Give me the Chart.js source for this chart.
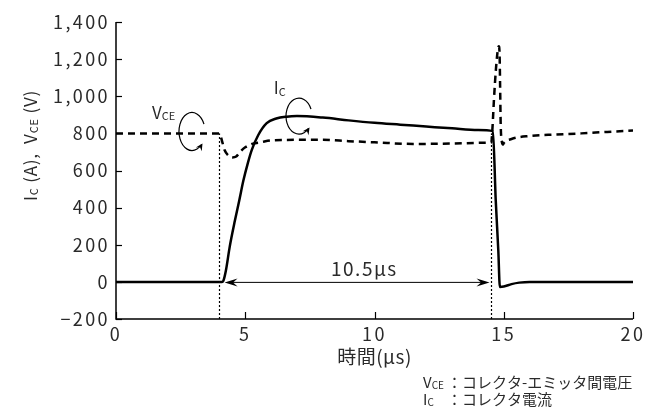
<!DOCTYPE html>
<html lang="ja">
<head>
<meta charset="utf-8">
<title>ターンオン・ターンオフ波形</title>
<script src="https://cdn.jsdelivr.net/npm/chart.js@4.4.1/dist/chart.umd.min.js"></script>
<style>
  html, body { margin: 0; padding: 0; background: #fff; }
  #wrap { width: 659px; height: 410px; position: relative; }
</style>
</head>
<body>
<div id="wrap"><canvas id="chart"></canvas></div>
<script>
"use strict";

// axis ranges / ticks
var xRange = [0, 20];
var yRange = [-200, 1400];
var xStep = 5;
var yStep = 200;

// V_CE waveform (dashed), time in us
var vceTime  = [0, 4.0, 4.1, 4.2, 4.35, 4.5, 4.65, 4.8, 5.0, 5.3, 5.6, 6.0, 7.0, 8.0, 9.0, 10.0, 11.5, 13.0, 14.4, 14.52,
                14.56, 14.62, 14.7, 14.77, 14.81, 14.84, 14.86, 14.88, 14.92, 14.97, 15.0, 15.3, 16.0, 17.0, 18.0, 19.0, 20.0];
var vceValue = [800, 800, 760, 710, 680, 670, 675, 700, 725, 745, 752, 762, 765, 765, 758, 752, 743, 745, 750, 752,
                820, 980, 1150, 1250, 1270, 1220, 1050, 860, 760, 740, 748, 770, 786, 794, 800, 808, 815];

// I_C waveform (solid)
var icTime  = [0, 4.1, 4.15, 4.25, 4.4, 4.6, 4.77, 4.93, 5.1, 5.25, 5.5, 5.83, 6.2, 6.6, 7.0, 8.0, 9.0, 10.0, 11.0, 12.0, 13.0, 14.0, 14.58,
               14.69, 14.79, 14.85, 15.0, 15.3, 15.6, 16.0, 20.0];
var icValue = [0, 0, 5, 60, 190, 330, 440, 547, 640, 710, 790, 855, 880, 890, 893, 885, 870, 857, 847, 837, 827, 818, 812,
               439, 168, -27, -25, -12, -4, 0, 0];

// turn-on / turn-off markers and pulse width
var markTimes  = [4.0, 14.5];
var markTop    = 800;
var arrowSpan  = [4.2, 14.45];
var widthLabel = "10.5μs";

var FONT = '"Noto Sans CJK JP", "Noto Sans", sans-serif';
var INK = "#2a2a2a";

function pts(t, v) {
  return t.map(function(x, i) { return { x: x, y: v[i] }; });
}

// text with subscripts: parts = [[text, isSub], ...]
function richWidth(ctx, parts, size) {
  var w = 0;
  parts.forEach(function(p) {
    ctx.font = (p[1] ? Math.round(size * 0.66) : size) + "px " + FONT;
    w += ctx.measureText(p[0]).width;
  });
  return w;
}
function drawRich(ctx, parts, x, y, size) {
  parts.forEach(function(p) {
    var s = p[1] ? Math.round(size * 0.66) : size;
    ctx.font = s + "px " + FONT;
    ctx.fillText(p[0], x, p[1] ? y + size * 0.08 : y);
    x += ctx.measureText(p[0]).width;
  });
  return x;
}

function arrowHead(ctx, x, y, dx, dy, len, half) {
  var n = Math.sqrt(dx * dx + dy * dy); dx /= n; dy /= n;
  var px = -dy, py = dx;
  ctx.beginPath();
  ctx.moveTo(x, y);
  ctx.lineTo(x - dx * len + px * half, y - dy * len + py * half);
  ctx.lineTo(x - dx * len * 0.65, y - dy * len * 0.65);
  ctx.lineTo(x - dx * len - px * half, y - dy * len - py * half);
  ctx.closePath();
  ctx.fill();
}

function curl(ctx, cx, cy, rx, ry) {
  var a0 = -0.4, a1 = 0.75;
  ctx.beginPath();
  ctx.ellipse(cx, cy, rx, ry, 0, a0, a1, true);
  ctx.stroke();
  var ex = cx + rx * Math.cos(a1), ey = cy + ry * Math.sin(a1);
  arrowHead(ctx, ex + 1, ey - 1, rx * Math.sin(a1), -ry * Math.cos(a1), 7, 3.5);
}

var decor = {
  id: "decor",
  beforeDraw: function(chart) {
    // wide, airy digits like the original typeface
    chart.ctx.letterSpacing = "2.4px";
  },
  beforeDatasetsDraw: function(chart) {
    var ctx = chart.ctx, xs = chart.scales.x, ys = chart.scales.y;
    ctx.save();
    ctx.letterSpacing = "0px";
    // dotted marker lines
    ctx.strokeStyle = "#000";
    ctx.lineWidth = 1.2;
    ctx.setLineDash([2, 2]);
    markTimes.forEach(function(t) {
      var px = Math.round(xs.getPixelForValue(t)) + 0.5;
      ctx.beginPath();
      ctx.moveTo(px, ys.getPixelForValue(yRange[0]));
      ctx.lineTo(px, ys.getPixelForValue(markTop));
      ctx.stroke();
    });
    ctx.setLineDash([]);
    // pulse-width arrow
    var ay = ys.getPixelForValue(0) + 0.5;
    var ax0 = xs.getPixelForValue(arrowSpan[0]), ax1 = xs.getPixelForValue(arrowSpan[1]);
    ctx.lineWidth = 1;
    ctx.beginPath(); ctx.moveTo(ax0 + 4, ay); ctx.lineTo(ax1 - 4, ay); ctx.stroke();
    ctx.fillStyle = "#000";
    arrowHead(ctx, ax0, ay, -1, 0, 13, 4);
    arrowHead(ctx, ax1, ay, 1, 0, 13, 4);
    ctx.restore();
  },
  afterDatasetsDraw: function(chart) {
    var ctx = chart.ctx, xs = chart.scales.x, ys = chart.scales.y, a = chart.chartArea;
    ctx.save();
    ctx.letterSpacing = "0px";
    // axes with inward ticks
    ctx.strokeStyle = "#000";
    ctx.lineWidth = 1.5;
    ctx.beginPath();
    ctx.moveTo(a.left, a.top); ctx.lineTo(a.left, a.bottom); ctx.lineTo(a.right, a.bottom);
    ctx.stroke();
    ctx.lineWidth = 1.2;
    ys.ticks.forEach(function(t) {
      var py = Math.round(ys.getPixelForValue(t.value)) + 0.5;
      ctx.beginPath(); ctx.moveTo(a.left, py); ctx.lineTo(a.left + 6, py); ctx.stroke();
    });
    xs.ticks.forEach(function(t) {
      var px = Math.round(xs.getPixelForValue(t.value)) + 0.5;
      ctx.beginPath(); ctx.moveTo(px, a.bottom); ctx.lineTo(px, a.bottom - 7); ctx.stroke();
    });

    ctx.fillStyle = INK;
    ctx.textBaseline = "alphabetic";
    // in-plot labels
    drawRich(ctx, [["V", false], ["CE", true]], xs.getPixelForValue(1.39), ys.getPixelForValue(878), 17);
    drawRich(ctx, [["I", false], ["C", true]], xs.getPixelForValue(6.1), ys.getPixelForValue(1010), 17);
    ctx.strokeStyle = "#000";
    ctx.fillStyle = "#000";
    ctx.lineWidth = 1.2;
    curl(ctx, xs.getPixelForValue(2.94), ys.getPixelForValue(810), 13, 19);
    curl(ctx, xs.getPixelForValue(7.08), ys.getPixelForValue(893), 13, 18);

    ctx.fillStyle = INK;
    ctx.textAlign = "center";
    ctx.letterSpacing = "1.5px";
    ctx.font = "19px " + FONT;
    ctx.fillText(widthLabel, xs.getPixelForValue(9.57) + 1, ys.getPixelForValue(30));

    // x-axis title
    ctx.letterSpacing = "0.5px";
    ctx.font = "19px " + FONT;
    ctx.fillText("時間(μs)", (a.left + a.right) / 2, a.bottom + 45);

    // y-axis title (rotated, with subscripts)
    ctx.textAlign = "left";
    ctx.letterSpacing = "0.8px";
    var yParts = [["I", false], ["C", true], [" (A),  V", false], ["CE", true], [" (V)", false]];
    var w = richWidth(ctx, yParts, 17);
    ctx.translate(37, (a.top + a.bottom) / 2 - 25);
    ctx.rotate(-Math.PI / 2);
    drawRich(ctx, yParts, -w / 2, 0, 17);
    ctx.setTransform(1, 0, 0, 1, 0, 0);

    // symbol legend
    ctx.letterSpacing = "0px";
    var lx = 423, colon = 447;
    drawRich(ctx, [["V", false], ["CE", true]], lx, 388, 15);
    ctx.font = "15px " + FONT;
    ctx.fillText("：コレクタ-エミッタ間電圧", colon, 388);
    drawRich(ctx, [["I", false], ["C", true]], lx, 405, 15);
    ctx.font = "15px " + FONT;
    ctx.fillText("：コレクタ電流", colon, 405);
    ctx.restore();
  }
};

new Chart(document.getElementById("chart").getContext("2d"), {
  type: "line",
  data: {
    datasets: [
      {
        label: "VCE",
        data: pts(vceTime, vceValue),
        borderColor: "#000",
        borderWidth: 2.5,
        borderDash: [7, 5],
        pointRadius: 0,
        cubicInterpolationMode: "monotone",
        fill: false
      },
      {
        label: "IC",
        data: pts(icTime, icValue),
        borderColor: "#000",
        borderWidth: 2.5,
        pointRadius: 0,
        cubicInterpolationMode: "monotone",
        fill: false
      }
    ]
  },
  options: {
    responsive: true,
    maintainAspectRatio: false,
    animation: false,
    layout: { padding: { top: 22, right: 26, left: 0, bottom: 0 } },
    plugins: { legend: { display: false }, tooltip: { enabled: false } },
    scales: {
      x: {
        type: "linear",
        min: xRange[0], max: xRange[1],
        grid: { display: false, drawTicks: false },
        border: { display: false },
        afterFit: function(s) { s.height = 91; },
        ticks: {
          stepSize: xStep, padding: 4, color: INK,
          font: { family: FONT, size: 18 }
        }
      },
      y: {
        min: yRange[0], max: yRange[1],
        grid: { display: false, drawTicks: false },
        border: { display: false },
        afterFit: function(s) { s.width = 116; },
        ticks: {
          stepSize: yStep, padding: 6, color: INK,
          font: { family: FONT, size: 18 },
          callback: function(v) {
            var s = Math.abs(v).toString().replace(/\B(?=(\d{3})+(?!\d))/g, ",");
            return v < 0 ? "−" + s : s;
          }
        }
      }
    }
  },
  plugins: [decor]
});
</script>
</body>
</html>
